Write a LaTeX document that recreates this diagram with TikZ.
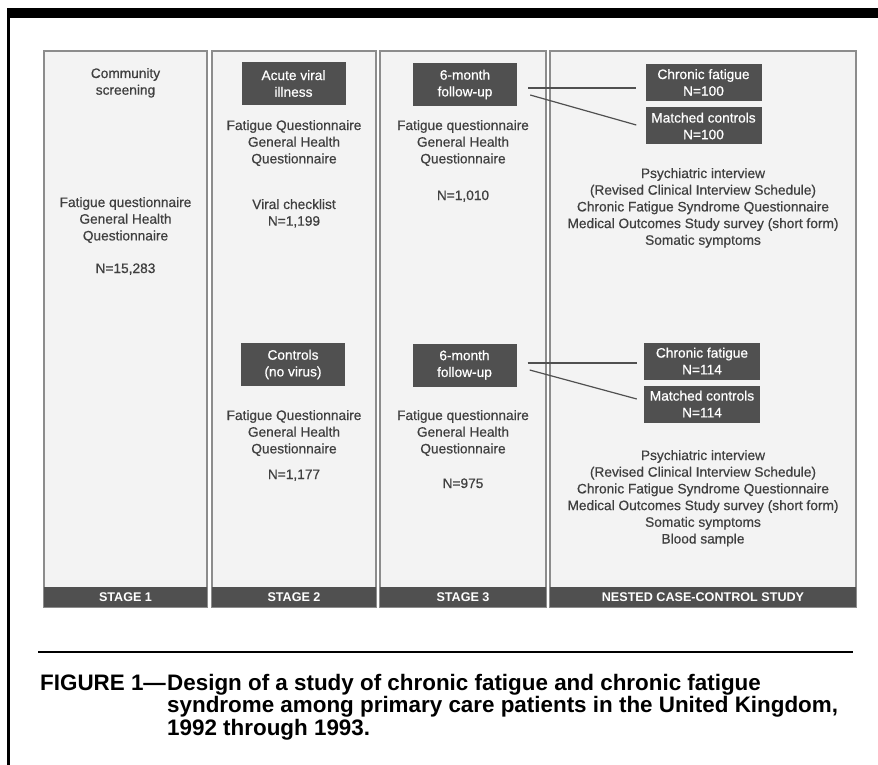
\documentclass[tikz,border=0pt]{standalone}
\usepackage{fontspec}
\setmainfont{Liberation Sans}
\newfontfamily\panelfont{Liberation Sans}[FakeBold=0.6]
\definecolor{boxgray}{HTML}{505050}
\definecolor{txtgray}{HTML}{404040}
\definecolor{panelbg}{HTML}{F3F3F3}
\definecolor{edgegray}{HTML}{8C8C8C}
\begin{document}
\begin{tikzpicture}[x=1pt,y=-1pt,
    txt/.style={anchor=base,align=center,inner sep=0,text=txtgray,font=\panelfont\fontsize{13.7}{16.7}\selectfont},
    dark/.style={fill=boxgray,text=white,align=center,inner sep=0,minimum width=104,minimum height=43,font=\panelfont\fontsize{13.7}{16.7}\selectfont},
    darkr/.style={dark,minimum width=116,minimum height=37},
    stagebar/.style={fill=boxgray,text=white,inner sep=0,minimum height=20,font=\bfseries\fontsize{12.6}{14}\selectfont},
    link/.style={draw=boxgray,line width=1.2}]
    \useasboundingbox[fill=white](0,0)rectangle(878,765);
    % frame
    \fill(8,8)rectangle(878,18.5);
    \fill(7,8)rectangle(9.5,765);
    % panels
    \foreach \xa/\xb in {44/207,212/376,380/546,550/856}
        \draw[edgegray,fill=panelbg,line width=1.2](\xa,51)rectangle(\xb,607);
    \node[stagebar,minimum width=163](s1)at(125.5,597){STAGE 1};
    \node[stagebar,minimum width=164](s2)at(294,597){STAGE 2};
    \node[stagebar,minimum width=166](s3)at(463,597){STAGE 3};
    \node[stagebar,minimum width=306](s4)at(703,597){NESTED CASE-CONTROL STUDY};
    % stage 1 (base = last line)
    \node[txt](comm)at(125.5,94.7){Community\\screening};
    \node[txt](fq1)at(125.5,240.4){Fatigue questionnaire\\General Health\\Questionnaire};
    \node[txt](n1)at(125.5,273){N=15,283};
    % stage 2
    \node[dark](acute)at(293.5,83.5){Acute viral\\illness};
    \node[txt](fq2a)at(294,163.4){Fatigue Questionnaire\\General Health\\Questionnaire};
    \node[txt](vir)at(294,225.7){Viral checklist\\N=1,199};
    \node[dark](ctrl)at(293,364.5){Controls\\(no virus)};
    \node[txt](fq2b)at(294,453.4){Fatigue Questionnaire\\General Health\\Questionnaire};
    \node[txt](n2b)at(294,479){N=1,177};
    % stage 3
    \node[dark](fu1)at(465,84.5){6-month\\follow-up};
    \node[txt](fq3a)at(463,163.4){Fatigue questionnaire\\General Health\\Questionnaire};
    \node[txt](n3a)at(463,200){N=1,010};
    \node[dark](fu2)at(464.5,365){6-month\\follow-up};
    \node[txt](fq3b)at(463,453.4){Fatigue questionnaire\\General Health\\Questionnaire};
    \node[txt](n3b)at(463,488){N=975};
    % nested case-control study
    \node[darkr](cf1)at(703.5,82.5){Chronic fatigue\\N=100};
    \node[darkr](mc1)at(703.5,126){Matched controls\\N=100};
    \node[txt](psy1)at(703,244.8){Psychiatric interview\\(Revised Clinical Interview Schedule)\\Chronic Fatigue Syndrome Questionnaire\\Medical Outcomes Study survey (short form)\\Somatic symptoms};
    \node[darkr](cf2)at(702,361){Chronic fatigue\\N=114};
    \node[darkr](mc2)at(702,404){Matched controls\\N=114};
    \node[txt](psy2)at(703,543.5){Psychiatric interview\\(Revised Clinical Interview Schedule)\\Chronic Fatigue Syndrome Questionnaire\\Medical Outcomes Study survey (short form)\\Somatic symptoms\\Blood sample};
    % connectors
    \draw[link]([shift={(11,3.5)}]fu1.east)--([shift={(-9,5.5)}]cf1.west);
    \draw[link]([shift={(13,10.5)}]fu1.east)--([shift={(-9,-1)}]mc1.west);
    \draw[link]([shift={(11,-2)}]fu2.east)--([shift={(-7,2)}]cf2.west);
    \draw[link]([shift={(13,5)}]fu2.east)--([shift={(-7,-5)}]mc2.west);
    % caption
    \draw[line width=2](38,652)--(853,652);
    \node[anchor=base west,inner sep=0,font=\bfseries\fontsize{22.4}{22.5}\selectfont](fig)at(40,690){FIGURE 1—};
    \node[anchor=base west,align=left,inner sep=0,font=\bfseries\fontsize{22.4}{22.5}\selectfont](cap)at(167,735){Design of a study of chronic fatigue and chronic fatigue\\syndrome among primary care patients in the United Kingdom,\\1992 through 1993.};
\end{tikzpicture}
\end{document}
